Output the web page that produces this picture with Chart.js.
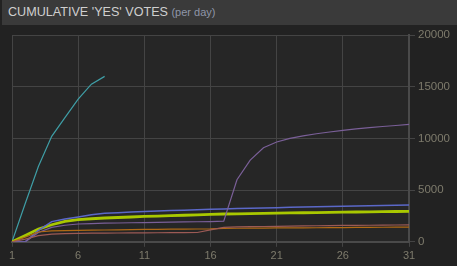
<!DOCTYPE html>
<html><head><meta charset="utf-8">
<script src="https://cdn.jsdelivr.net/npm/chart.js@4"></script>
<style>
html,body{margin:0;padding:0;background:#222;width:457px;height:266px;overflow:hidden;}
#hdr{position:absolute;left:2px;top:0;width:455px;height:25px;background:#3a3a3a;font-family:"Liberation Sans",Arial,sans-serif;}
#hdr .t{position:absolute;left:6px;top:5px;font-size:12.6px;color:#cfcfcf;white-space:nowrap;}
#hdr .s{font-size:11px;color:#8f96a8;}
#wrap{position:absolute;left:0;top:0;width:457px;height:266px;}
</style></head>
<body>
<div id="wrap"><canvas id="c" width="457" height="266"></canvas></div>
<div id="hdr"><div class="t">CUMULATIVE 'YES' VOTES <span class="s">(per day)</span></div></div>
<script>
const days = Array.from({length:31},(_,i)=>i+1);
const xTicks = [1,6,11,16,21,26,31];
const yTicks = [0,5000,10000,15000,20000];
const cyan   = [0,3700,7300,10200,12000,13800,15250,16000];
const purple = [0,0,900,1400,1600,1720,1760,1800,1820,1840,1860,1880,1900,1920,1940,1960,2000,6000,7900,9100,9650,10000,10250,10450,10620,10780,10920,11040,11150,11250,11350];
const blue   = [0,0,1100,1950,2200,2400,2620,2750,2820,2880,2930,2980,3020,3060,3100,3140,3180,3210,3240,3270,3300,3330,3360,3390,3420,3440,3470,3490,3510,3540,3560];
const yellow = [0,600,1230,1650,1970,2140,2230,2300,2350,2400,2450,2490,2530,2570,2610,2650,2690,2710,2730,2750,2770,2790,2810,2830,2850,2870,2880,2900,2910,2930,2940];
const orange = [0,450,950,1050,1080,1100,1120,1140,1160,1180,1200,1210,1220,1230,1240,1250,1300,1310,1320,1330,1340,1345,1350,1360,1370,1380,1390,1400,1405,1410,1420];
const red    = [0,260,600,750,790,810,830,840,850,860,870,875,880,890,900,1150,1400,1440,1460,1480,1500,1520,1540,1550,1560,1580,1590,1600,1610,1625,1640];

const pts = arr => arr.map((v,i)=>({x:days[i],y:v}));
const ds = (data,color,w)=>({data:pts(data),borderColor:color,borderWidth:w,pointRadius:0,tension:0,fill:false});

const bgPlugin = {id:'bg',beforeDraw(ch){const a=ch.chartArea,c=ch.ctx;c.save();c.fillStyle='#262626';c.fillRect(a.left,a.top,a.right-a.left,a.bottom-a.top);c.restore();}};

new Chart(document.getElementById('c'),{
  type:'line',
  data:{datasets:[
    ds(red,'#9c5a55',1.2),
    ds(orange,'#b06a14',1.2),
    ds(purple,'#7a5f98',1.2),
    ds(blue,'#5b68c8',1.5),
    ds(yellow,'#a9c800',2.8),
    ds(cyan,'#3f9ea6',1.2)
  ]},
  plugins:[bgPlugin],
  options:{
    responsive:false,animation:false,
    layout:{padding:{left:12,top:35,right:4,bottom:0}},
    plugins:{legend:{display:false},tooltip:{enabled:false}},
    scales:{
      x:{type:'linear',min:1,max:31,
        afterBuildTicks:s=>{s.ticks=xTicks.map(v=>({value:v}));},
        grid:{color:'#444',tickLength:5,lineWidth:1},
        border:{color:'#4a4a4a',width:2},
        ticks:{color:'#7e7b6c',font:{family:'Liberation Sans',size:11},padding:3,maxRotation:0,callback:v=>String(v)}
      },
      y:{position:'right',min:0,max:20000,
        afterBuildTicks:s=>{s.ticks=yTicks.map(v=>({value:v}));},
        grid:{color:'#444',tickLength:6,lineWidth:1},
        border:{color:'#4a4a4a',width:2},
        ticks:{color:'#7e7b6c',font:{family:'Liberation Sans',size:11.5},padding:3,callback:v=>String(v)}
      }
    }
  }
});
</script>
</body></html>
